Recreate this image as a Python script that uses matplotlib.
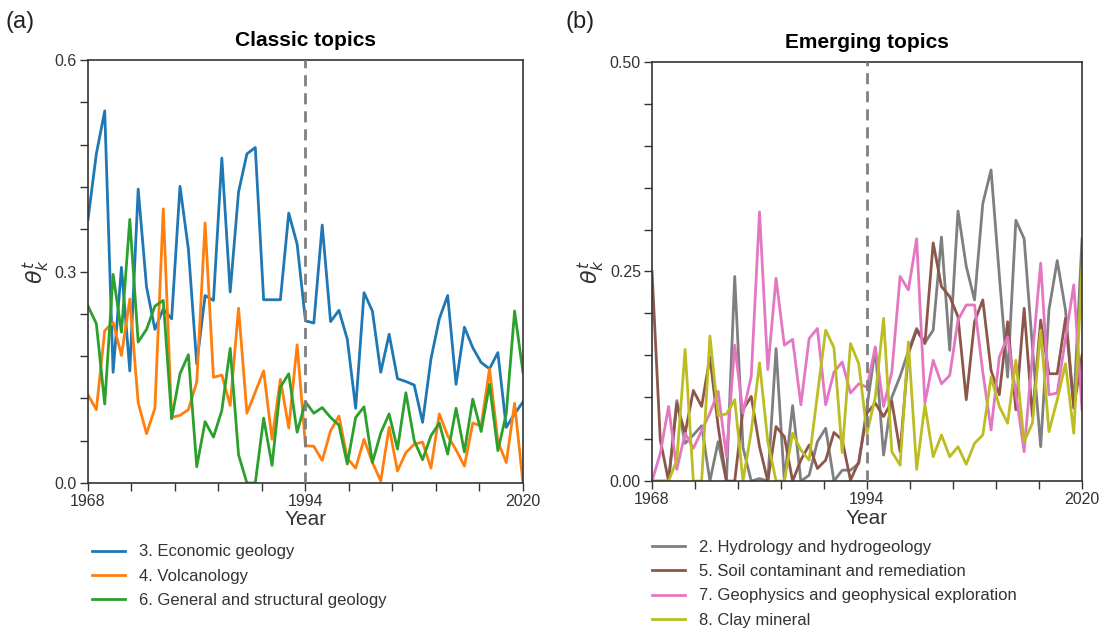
import numpy as np
import matplotlib
matplotlib.use("Agg")
import matplotlib.pyplot as plt

plt.rcParams['font.family'] = ['Liberation Sans', 'DejaVu Sans']
plt.rcParams['mathtext.fontset'] = 'dejavusans'

years = np.arange(1968, 2021)

# classic topics
economic = [0.374, 0.467, 0.528, 0.157, 0.306, 0.159, 0.417, 0.278, 0.218, 0.247,
            0.233, 0.421, 0.332, 0.169, 0.266, 0.259, 0.461, 0.271, 0.413, 0.467,
            0.476, 0.260, 0.260, 0.260, 0.383, 0.339, 0.230, 0.227, 0.366, 0.229,
            0.245, 0.204, 0.106, 0.270, 0.244, 0.157, 0.211, 0.148, 0.144, 0.139,
            0.086, 0.176, 0.233, 0.266, 0.140, 0.221, 0.192, 0.171, 0.162, 0.185,
            0.079, 0.098, 0.115]
volcanology = [0.125, 0.104, 0.216, 0.228, 0.181, 0.261, 0.114, 0.070, 0.106, 0.389,
               0.093, 0.096, 0.104, 0.143, 0.369, 0.150, 0.153, 0.110, 0.248, 0.099,
               0.129, 0.159, 0.062, 0.147, 0.078, 0.196, 0.053, 0.052, 0.032, 0.074,
               0.095, 0.035, 0.021, 0.062, 0.029, 0.003, 0.079, 0.017, 0.043, 0.055,
               0.058, 0.021, 0.098, 0.067, 0.047, 0.024, 0.085, 0.081, 0.162, 0.059,
               0.029, 0.113, 0.0]
structural = [0.251, 0.226, 0.112, 0.296, 0.214, 0.374, 0.200, 0.218, 0.251, 0.259,
              0.091, 0.155, 0.182, 0.023, 0.087, 0.065, 0.103, 0.191, 0.040, 0.0,
              0.0, 0.092, 0.025, 0.136, 0.155, 0.072, 0.115, 0.099, 0.107, 0.093,
              0.082, 0.027, 0.093, 0.108, 0.029, 0.071, 0.098, 0.048, 0.128, 0.060,
              0.033, 0.067, 0.085, 0.041, 0.106, 0.044, 0.119, 0.073, 0.140, 0.046,
              0.098, 0.244, 0.157]

# emerging topics
hydrology = [0.0, 0.0, 0.0, 0.096, 0.045, 0.055, 0.066, 0.0, 0.047, 0.0,
             0.244, 0.04, 0.0, 0.003, 0.0, 0.158, 0.0, 0.090, 0.0, 0.007,
             0.047, 0.063, 0.0, 0.013, 0.013, 0.021, 0.089, 0.158, 0.031, 0.10,
             0.125, 0.155, 0.182, 0.165, 0.18, 0.291, 0.156, 0.322, 0.256, 0.216,
             0.331, 0.371, 0.245, 0.124, 0.311, 0.289, 0.16, 0.041, 0.204, 0.263,
             0.204, 0.089, 0.289]
soil = [0.25, 0.049, 0.0, 0.092, 0.057, 0.108, 0.089, 0.148, 0.065, 0.0,
        0.0, 0.085, 0.101, 0.041, 0.0, 0.065, 0.053, 0.0, 0.025, 0.043,
        0.015, 0.025, 0.058, 0.049, 0.001, 0.023, 0.081, 0.093, 0.077, 0.095,
        0.035, 0.152, 0.18, 0.164, 0.284, 0.232, 0.22, 0.196, 0.097, 0.19,
        0.216, 0.132, 0.103, 0.19, 0.085, 0.206, 0.077, 0.192, 0.128, 0.128,
        0.194, 0.087, 0.15]
geophysics = [0.0, 0.033, 0.089, 0.014, 0.057, 0.039, 0.06, 0.081, 0.107, 0.029,
              0.162, 0.081, 0.125, 0.321, 0.133, 0.242, 0.162, 0.169, 0.091, 0.17,
              0.182, 0.091, 0.13, 0.142, 0.105, 0.116, 0.112, 0.16, 0.089, 0.13,
              0.244, 0.228, 0.289, 0.093, 0.144, 0.116, 0.126, 0.192, 0.21, 0.21,
              0.13, 0.061, 0.148, 0.172, 0.105, 0.035, 0.15, 0.26, 0.103, 0.105,
              0.17, 0.234, 0.085]
clay = [0.0, 0.0, 0.0, 0.025, 0.157, 0.0, 0.0, 0.173, 0.078, 0.08,
        0.097, 0.0, 0.059, 0.141, 0.047, 0.0, 0.0, 0.057, 0.037, 0.025,
        0.103, 0.18, 0.159, 0.034, 0.164, 0.14, 0.057, 0.10, 0.194, 0.035,
        0.019, 0.166, 0.014, 0.091, 0.029, 0.055, 0.029, 0.041, 0.02, 0.045,
        0.055, 0.124, 0.089, 0.069, 0.144, 0.047, 0.069, 0.18, 0.059, 0.097,
        0.14, 0.057, 0.254]

classic = [(economic, '#1f77b4', '3. Economic geology'),
           (volcanology, '#ff7f0e', '4. Volcanology'),
           (structural, '#2ca02c', '6. General and structural geology')]
emerging = [(hydrology, '#7f7f7f', '2. Hydrology and hydrogeology'),
            (soil, '#8c564b', '5. Soil contaminant and remediation'),
            (geophysics, '#e377c2', '7. Geophysics and geophysical exploration'),
            (clay, '#bcbd22', '8. Clay mineral')]

fig = plt.figure(figsize=(11.04, 6.33), dpi=100)
ax1 = fig.add_axes([0.0797, 0.237, 0.394, 0.668])
ax2 = fig.add_axes([0.5906, 0.240, 0.3895, 0.6624])

dark = '#333333'


def style(ax, ymax, labeled):
	ax.set_xlim(1968, 2020)
	ax.set_ylim(0, ymax)
	ax.set_xticks(np.linspace(1968, 2020, 11))
	ax.set_xticklabels(['1968', '', '', '', '', '1994', '', '', '', '', '2020'])
	ax.set_yticks(np.linspace(0, ymax, 11))
	ax.set_yticklabels([labeled[0], '', '', '', '', labeled[1], '', '', '', '', labeled[2]])
	ax.tick_params(direction='out', length=6, width=1, colors=dark, labelsize=11.5, pad=2)
	for s in ax.spines.values():
		s.set_color(dark)
		s.set_linewidth(1.2)
	ax.axvline(1994, color='#808080', lw=2, ls=(0, (4, 2.5)), zorder=5)
	ax.set_xlabel('Year', fontsize=15, color=dark, labelpad=1)
	ax.set_ylabel(r'$\theta_k^t$', fontsize=16, color=dark, labelpad=2)


for vals, col, lab in classic:
	ax1.plot(years, vals, color=col, lw=2, label=lab)
style(ax1, 0.6, ['0.0', '0.3', '0.6'])
ax1.set_title('Classic topics', fontsize=15, fontweight='bold', pad=10)
ax1.legend(loc='upper left', bbox_to_anchor=(-0.025, -0.11), frameon=False,
           fontsize=12, handlelength=2.0, labelspacing=0.55, labelcolor=dark)

for vals, col, lab in emerging:
	ax2.plot(years, vals, color=col, lw=2, label=lab)
style(ax2, 0.5, ['0.00', '0.25', '0.50'])
ax2.set_title('Emerging topics', fontsize=15, fontweight='bold', pad=10)
ax2.legend(loc='upper left', bbox_to_anchor=(-0.035, -0.105), frameon=False,
           fontsize=12, handlelength=2.0, labelspacing=0.55, labelcolor=dark)

fig.text(0.005, 0.955, '(a)', fontsize=17, color='#222222')
fig.text(0.512, 0.955, '(b)', fontsize=17, color='#222222')

fig.savefig('out.png', dpi=100)
